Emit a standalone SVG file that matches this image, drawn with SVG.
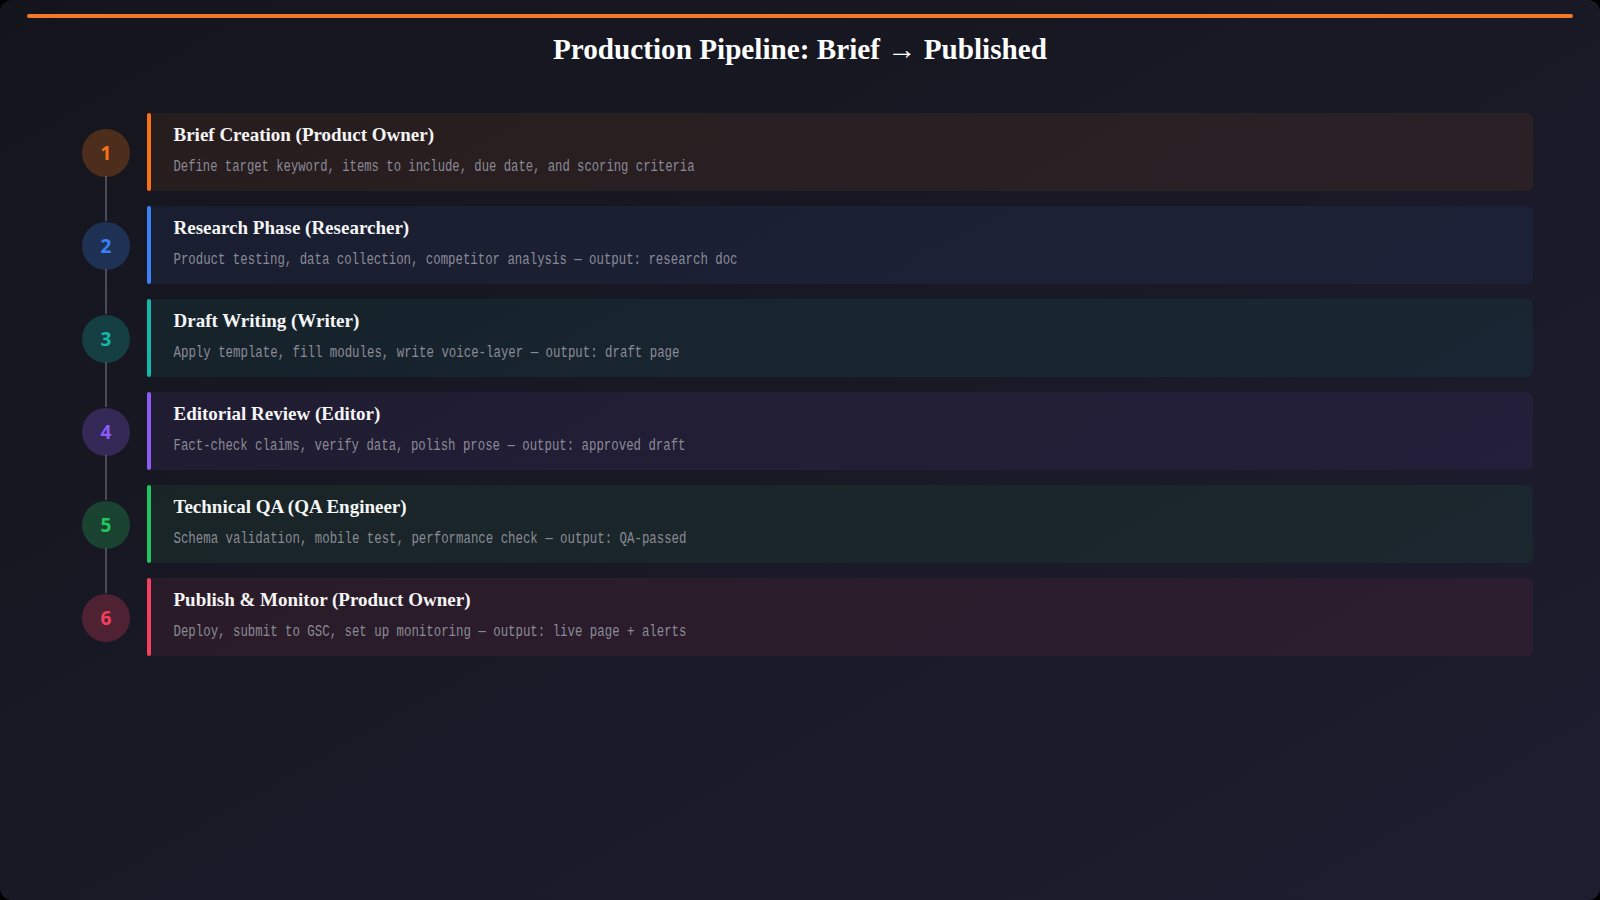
<svg xmlns="http://www.w3.org/2000/svg" width="1600" height="900" viewBox="0 0 1600 900">
<defs>
<linearGradient id="bg" x1="0" y1="0" x2="1" y2="1">
<stop offset="0" stop-color="#14151c"/>
<stop offset="1" stop-color="#1e1d30"/>
</linearGradient>
<style>
.title{font-family:"Liberation Serif","Times New Roman",serif;font-weight:bold;font-size:29px;fill:#ffffff;}
.ct{font-family:"Liberation Serif","Times New Roman",serif;font-weight:bold;font-size:19px;fill:#f5f5f5;}
.cd{font-family:"Liberation Mono","Courier New",monospace;font-size:16px;fill:#8a8a96;}
.num{font-family:"Noto Sans","Open Sans",sans-serif;font-weight:bold;font-size:19px;text-anchor:middle;}
.conn{stroke:#4a4a56;stroke-width:2;}
</style>
</defs>
<rect x="0" y="0" width="1600" height="900" fill="#000000"/>
<rect x="0" y="0" width="1600" height="900" rx="12" fill="url(#bg)"/>
<rect x="27" y="14" width="1546" height="4" rx="2" fill="#f07a2a"/>
<text class="title" x="800" y="59" text-anchor="middle" textLength="494" lengthAdjust="spacingAndGlyphs">Production Pipeline: Brief → Published</text>

<g id="connectors">
<line class="conn" x1="106" y1="176" x2="106" y2="221"/>
<line class="conn" x1="106" y1="269" x2="106" y2="314"/>
<line class="conn" x1="106" y1="362" x2="106" y2="407"/>
<line class="conn" x1="106" y1="455" x2="106" y2="500"/>
<line class="conn" x1="106" y1="548" x2="106" y2="593"/>
</g>

<g id="step1">
<rect x="147" y="113" width="1386" height="78" rx="6" fill="#f97316" fill-opacity="0.08"/>
<rect x="147" y="113" width="4" height="78" rx="2" fill="#f97316"/>
<circle cx="106" cy="153" r="24" fill="#f97316" fill-opacity="0.25"/>
<text class="num" x="106" y="160" fill="#f97316">1</text>
<text class="ct" x="173.5" y="141">Brief Creation (Product Owner)</text>
<text class="cd" x="173.5" y="171" textLength="521" lengthAdjust="spacingAndGlyphs">Define target keyword, items to include, due date, and scoring criteria</text>
</g>

<g id="step2">
<rect x="147" y="206" width="1386" height="78" rx="6" fill="#3b82f6" fill-opacity="0.08"/>
<rect x="147" y="206" width="4" height="78" rx="2" fill="#3b82f6"/>
<circle cx="106" cy="246" r="24" fill="#3b82f6" fill-opacity="0.25"/>
<text class="num" x="106" y="253" fill="#3b82f6">2</text>
<text class="ct" x="173.5" y="234">Research Phase (Researcher)</text>
<text class="cd" x="173.5" y="264" textLength="564" lengthAdjust="spacingAndGlyphs">Product testing, data collection, competitor analysis — output: research doc</text>
</g>

<g id="step3">
<rect x="147" y="299" width="1386" height="78" rx="6" fill="#14b8a6" fill-opacity="0.08"/>
<rect x="147" y="299" width="4" height="78" rx="2" fill="#14b8a6"/>
<circle cx="106" cy="339" r="24" fill="#14b8a6" fill-opacity="0.25"/>
<text class="num" x="106" y="346" fill="#14b8a6">3</text>
<text class="ct" x="173.5" y="327">Draft Writing (Writer)</text>
<text class="cd" x="173.5" y="357" textLength="506" lengthAdjust="spacingAndGlyphs">Apply template, fill modules, write voice-layer — output: draft page</text>
</g>

<g id="step4">
<rect x="147" y="392" width="1386" height="78" rx="6" fill="#8b5cf6" fill-opacity="0.08"/>
<rect x="147" y="392" width="4" height="78" rx="2" fill="#8b5cf6"/>
<circle cx="106" cy="432" r="24" fill="#8b5cf6" fill-opacity="0.25"/>
<text class="num" x="106" y="439" fill="#8b5cf6">4</text>
<text class="ct" x="173.5" y="420">Editorial Review (Editor)</text>
<text class="cd" x="173.5" y="450" textLength="512" lengthAdjust="spacingAndGlyphs">Fact-check claims, verify data, polish prose — output: approved draft</text>
</g>

<g id="step5">
<rect x="147" y="485" width="1386" height="78" rx="6" fill="#22c55e" fill-opacity="0.08"/>
<rect x="147" y="485" width="4" height="78" rx="2" fill="#22c55e"/>
<circle cx="106" cy="525" r="24" fill="#22c55e" fill-opacity="0.25"/>
<text class="num" x="106" y="532" fill="#22c55e">5</text>
<text class="ct" x="173.5" y="513">Technical QA (QA Engineer)</text>
<text class="cd" x="173.5" y="543" textLength="513" lengthAdjust="spacingAndGlyphs">Schema validation, mobile test, performance check — output: QA-passed</text>
</g>

<g id="step6">
<rect x="147" y="578" width="1386" height="78" rx="6" fill="#f43f5e" fill-opacity="0.08"/>
<rect x="147" y="578" width="4" height="78" rx="2" fill="#f43f5e"/>
<circle cx="106" cy="618" r="24" fill="#f43f5e" fill-opacity="0.25"/>
<text class="num" x="106" y="625" fill="#f43f5e">6</text>
<text class="ct" x="173.5" y="606">Publish &amp; Monitor (Product Owner)</text>
<text class="cd" x="173.5" y="636" textLength="513" lengthAdjust="spacingAndGlyphs">Deploy, submit to GSC, set up monitoring — output: live page + alerts</text>
</g>
</svg>
